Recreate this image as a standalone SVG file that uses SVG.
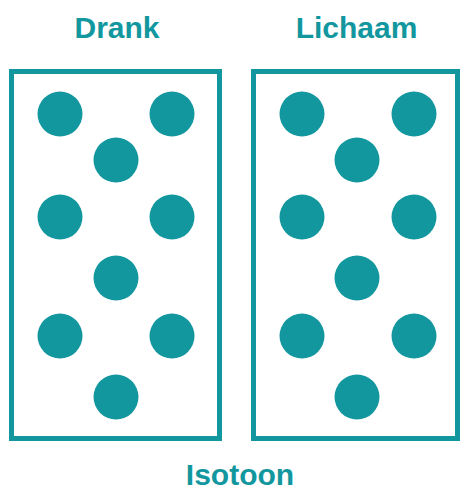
<svg xmlns="http://www.w3.org/2000/svg" width="461" height="491" viewBox="0 0 461 491">
  <style>
    .box { fill: #ffffff; stroke: #13979f; stroke-width: 5; }
    .dot { fill: #13979f; }
    .label { font-family: "Liberation Sans", Arial, sans-serif; font-weight: bold; font-size: 30px; fill: #13979f; text-anchor: middle; }
  </style>
  <rect width="461" height="491" fill="#ffffff"/>
  <g id="drank">
    <text class="label" x="117" y="38">Drank</text>
    <rect class="box" x="11.5" y="71.5" width="208" height="367"/>
    <circle class="dot" cx="60" cy="114" r="22.5"/>
    <circle class="dot" cx="172" cy="114" r="22.5"/>
    <circle class="dot" cx="116" cy="160" r="22.5"/>
    <circle class="dot" cx="60" cy="217" r="22.5"/>
    <circle class="dot" cx="172" cy="217" r="22.5"/>
    <circle class="dot" cx="116" cy="278" r="22.5"/>
    <circle class="dot" cx="60" cy="336" r="22.5"/>
    <circle class="dot" cx="172" cy="336" r="22.5"/>
    <circle class="dot" cx="116" cy="397" r="22.5"/>
  </g>
  <g id="lichaam">
    <text class="label" x="356.5" y="38">Lichaam</text>
    <rect class="box" x="253.5" y="71.5" width="204" height="367"/>
    <circle class="dot" cx="302" cy="114" r="22.5"/>
    <circle class="dot" cx="414" cy="114" r="22.5"/>
    <circle class="dot" cx="357" cy="160" r="22.5"/>
    <circle class="dot" cx="302" cy="217" r="22.5"/>
    <circle class="dot" cx="414" cy="217" r="22.5"/>
    <circle class="dot" cx="357" cy="278" r="22.5"/>
    <circle class="dot" cx="302" cy="336" r="22.5"/>
    <circle class="dot" cx="414" cy="336" r="22.5"/>
    <circle class="dot" cx="357" cy="397" r="22.5"/>
  </g>
  <g id="isotoon">
    <text class="label" x="240" y="485">Isotoon</text>
  </g>
  <g id="connectors"/>
</svg>
